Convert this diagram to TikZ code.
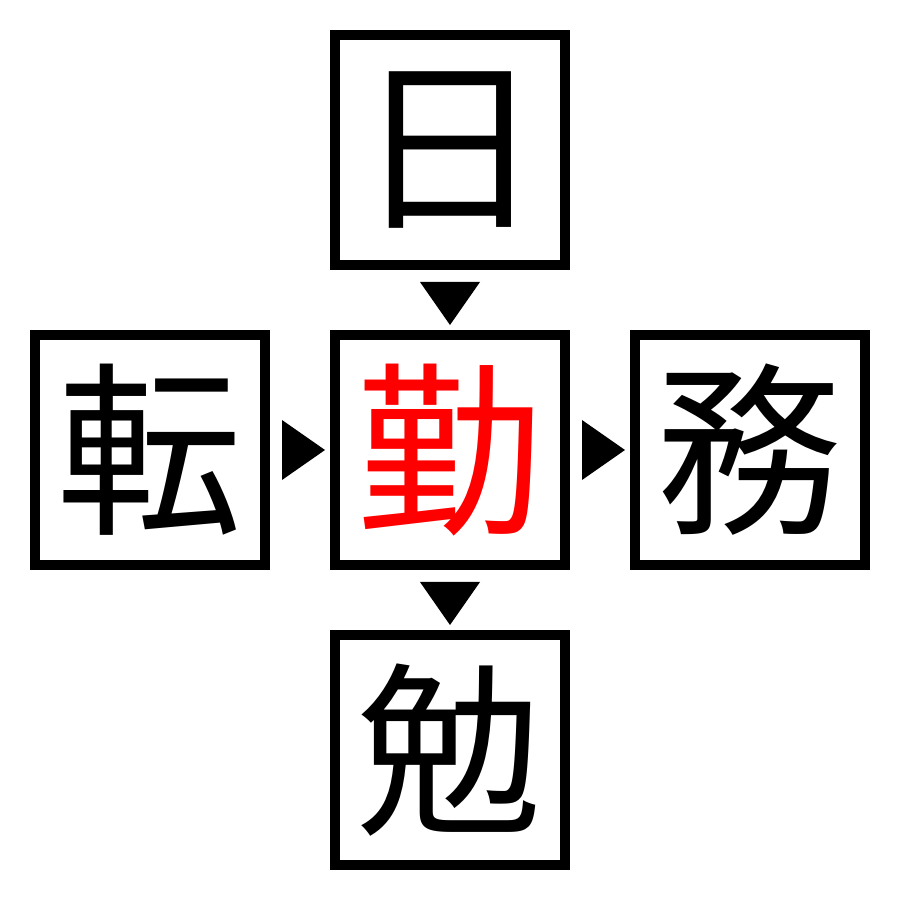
\documentclass[tikz,border=0pt]{standalone}
\usepackage{fontspec}
\newfontfamily\cjk{Noto Sans CJK JP}
\tikzset{
  kanji/.style={draw, line width=0.1cm, minimum size=2.3cm, inner sep=0pt,
    font=\cjk\fontsize{53}{53}\selectfont},
  pointer/.style={fill=black}
}
\begin{document}
\begin{tikzpicture}
      \useasboundingbox (0,0) rectangle (9,9);
      \draw
        (4.5,7.5) node[kanji] (top){日}
        (1.5,4.5) node[kanji] (left){転}
        (4.5,4.5) node[kanji, text=red] (mid){勤}
        (7.5,4.5) node[kanji] (right){務}
        (4.5,1.5) node[kanji] (bottom){勉};
      \begin{scope}[pointer]
        \fill ([shift={(-0.3,-0.12)}]top.south) -- ([shift={(0.3,-0.12)}]top.south)
          -- ([shift={(0,-0.55)}]top.south) -- cycle;
        \fill ([shift={(-0.3,-0.12)}]mid.south) -- ([shift={(0.3,-0.12)}]mid.south)
          -- ([shift={(0,-0.55)}]mid.south) -- cycle;
        \fill ([shift={(0.12,0.3)}]left.east) -- ([shift={(0.12,-0.3)}]left.east)
          -- ([shift={(0.55,0)}]left.east) -- cycle;
        \fill ([shift={(0.12,0.3)}]mid.east) -- ([shift={(0.12,-0.3)}]mid.east)
          -- ([shift={(0.55,0)}]mid.east) -- cycle;
      \end{scope}
    \end{tikzpicture}
\end{document}
